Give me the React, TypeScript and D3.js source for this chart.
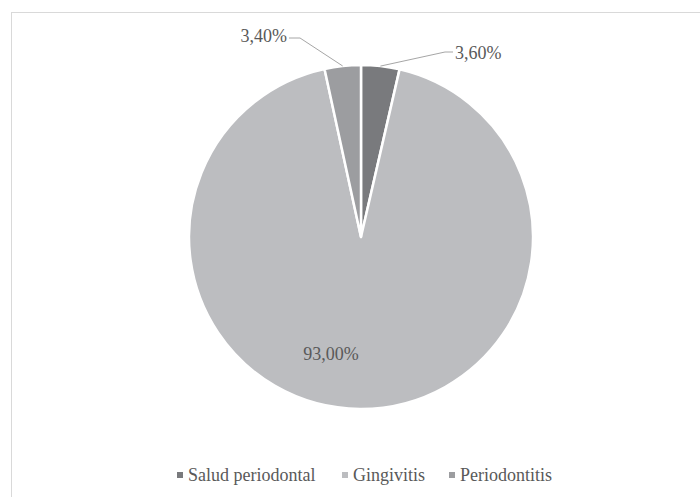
import React from "react";
import * as d3 from "d3";

const categories = ["Salud periodontal", "Gingivitis", "Periodontitis"];
const values = [3.6, 93.0, 3.4];
const labels = ["3,60%", "93,00%", "3,40%"];
const colors = ["#797a7d", "#bcbdc0", "#9c9da0"];

const W = 700;
const H = 497;
const cx = 361;
const cy = 237;
const R = 172;
const textColor = "#595959";
const font = "Liberation Serif, DejaVu Serif, serif";

export default function App() {
  const pie = d3.pie<number>().sort(null).value((d) => d)(values);
  const arc = d3.arc<d3.PieArcDatum<number>>().innerRadius(0).outerRadius(R);

  // label placement: outside labels get leader lines, the big slice gets an inside label
  const labelLayout = [
    { outside: true, tx: 94, ty: -184, anchor: "start", elbow: [84, -185] },
    { outside: false, tx: -30, ty: 117, anchor: "middle", elbow: [0, 0] },
    { outside: true, tx: -74, ty: -201, anchor: "end", elbow: [-61, -199] },
  ];

  // legend layout
  const legendY = 475;
  const legendItems = [{ x: 177 }, { x: 342 }, { x: 449 }];

  return (
    <svg
      width={W}
      height={H}
      style={{ position: "absolute", left: 0, top: 0, background: "#fff", fontFamily: font }}
    >
      <rect x={11.5} y={12.5} width={W} height={H} fill="#fff" stroke="#d9d9d9" strokeWidth={1} />
      <g transform={`translate(${cx},${cy})`}>
        {pie.map((d, i) => (
          <path key={categories[i]} d={arc(d) || ""} fill={colors[i]} stroke="#fff" strokeWidth={2.5} strokeLinejoin="round" />
        ))}
        {pie.map((d, i) => {
          const L = labelLayout[i];
          const mid = (d.startAngle + d.endAngle) / 2;
          const ex = Math.sin(mid) * R;
          const ey = -Math.cos(mid) * R;
          return (
            <g key={"lab" + i}>
              {L.outside && (
                <polyline
                  points={`${ex},${ey} ${L.elbow[0]},${L.elbow[1]} ${L.tx + (L.anchor === "start" ? -2 : 2)},${L.elbow[1]}`}
                  fill="none"
                  stroke="#a6a6a6"
                  strokeWidth={1}
                />
              )}
              <text
                x={L.tx}
                y={L.ty}
                textAnchor={L.anchor as any}
                fontSize={18}
                fill={textColor}
                dy="0.35em"
                style={{ fontFamily: font }}
              >
                {labels[i]}
              </text>
            </g>
          );
        })}
      </g>
      {categories.map((c, i) => (
        <g key={"leg" + i} transform={`translate(${legendItems[i].x},${legendY})`}>
          <rect x={0} y={-3} width={6} height={6} fill={colors[i]} />
          <text x={11} y={0} dy="0.35em" fontSize={18} fill={textColor} style={{ fontFamily: font }}>
            {c}
          </text>
        </g>
      ))}
    </svg>
  );
}
